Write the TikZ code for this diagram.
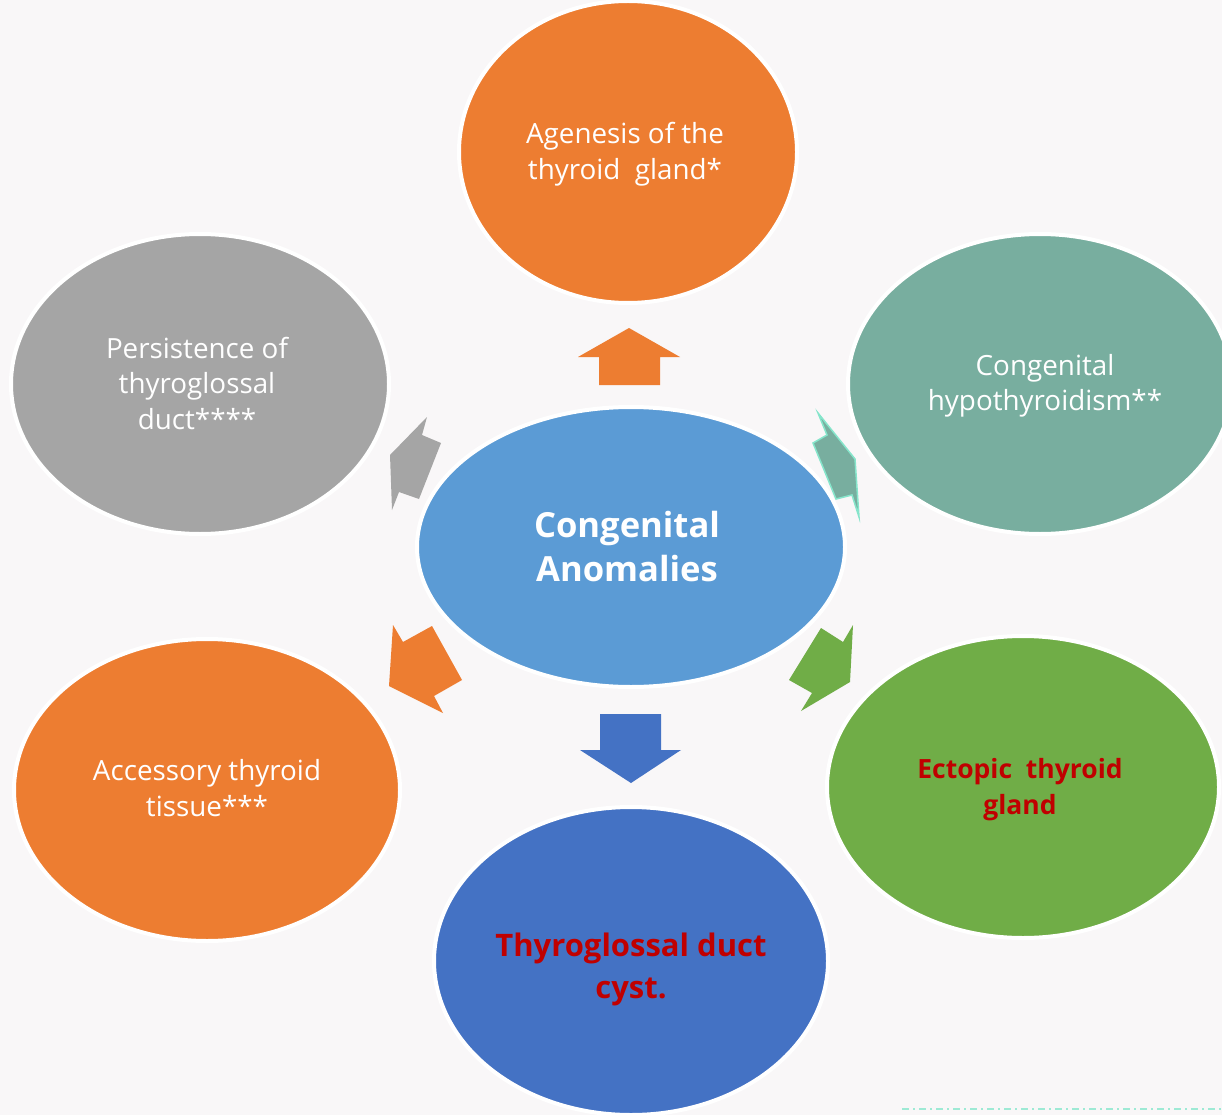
\documentclass[tikz,border=0pt]{standalone}
\usepackage{fontspec}
\setmainfont{Open Sans}
\usetikzlibrary{shapes.geometric}
\definecolor{bgc}{HTML}{F9F7F8}
\definecolor{orng}{HTML}{ED7D31}
\definecolor{lblue}{HTML}{5B9BD5}
\definecolor{teal1}{HTML}{78AE9F}
\definecolor{tealedge}{HTML}{86E5CB}
\definecolor{gry}{HTML}{A5A5A5}
\definecolor{grn}{HTML}{70AD47}
\definecolor{dblue}{HTML}{4472C4}
\definecolor{redt}{HTML}{C00000}
\tikzset{
  bubble/.style={ellipse, draw=white, line width=4pt, inner sep=0pt},
  wtext/.style={text=white, align=center, font=\fontsize{27.8}{35.5}\selectfont},
  rtext/.style={text=redt, align=center}
}
\begin{document}
\begin{tikzpicture}[x=1pt,y=-1pt]
\useasboundingbox (0,0) rectangle (1222,1115);
\clip (0,0) rectangle (1222,1115);
\fill[bgc] (0,0) rectangle (1222,1115);

% ellipses
\node[bubble, fill=orng, minimum width=338pt, minimum height=302pt] (top) at (628,152) {};
\node[bubble, fill=teal1, minimum width=384pt, minimum height=300pt] (tr) at (1040,384) {};
\node[bubble, fill=gry, minimum width=378pt, minimum height=300pt] (tl) at (200,384) {};
\node[bubble, fill=orng, minimum width=386pt, minimum height=302pt] (bl) at (207,790) {};
\node[bubble, fill=grn, minimum width=392pt, minimum height=302pt] (br) at (1023,787) {};
\node[bubble, fill=dblue, minimum width=394pt, minimum height=308pt] (bot) at (631,961) {};
\node[bubble, fill=lblue, minimum width=428pt, minimum height=280pt] (ctr) at (631,547) {};

% texts
\node[wtext] (ttop) at (625,154) {Agenesis of the\\thyroid\ \ gland*};
\node[wtext] (ttr) at (1045,386) {Congenital\\hypothyroidism**};
\node[wtext] (ttl) at (197,383) {Persistence of\\thyroglossal\\duct****};
\node[wtext] (tbl) at (207,788) {Accessory thyroid\\tissue***};
\node[rtext, font=\bfseries\fontsize{26.5}{36}\selectfont] (tbr) at (1020,790) {Ectopic\ \ thyroid\\gland};
\node[rtext, font=\bfseries\fontsize{31}{42}\selectfont] (tbot) at (631,969) {Thyroglossal duct\\cyst.};
\node[wtext, font=\bfseries\fontsize{34.6}{44}\selectfont] (tctr) at (627,547) {Congenital\\Anomalies};

% block arrows
\fill[orng] (599,385) -- (599,357) -- (578,357) -- (629,328) -- (680,357) -- (660,357) -- (660,385) -- cycle;
\fill[dblue] (600,714) -- (661,714) -- (661,750) -- (681,750) -- (631,783) -- (580,750) -- (600,750) -- cycle;
\filldraw[teal1, draw=tealedge, line width=1.5pt, line join=miter] (818,413) -- (827,435) -- (813,443) -- (836,499) -- (852,495) -- (859,517) -- (855,459) -- cycle;
\fill[gry] (427,417) -- (422,435) -- (441,443) -- (419,499) -- (399,492) -- (392,510) -- (390,455) -- cycle;
\fill[orng] (393,625) -- (403,642) -- (432,626) -- (462,680) -- (434,696) -- (443,713) -- (389,686) -- cycle;
\fill[grn] (821,628) -- (843,642) -- (853,625) -- (850,682) -- (801,711) -- (812,693) -- (789,680) -- cycle;

% dash-dot line
\draw[tealedge!80, line width=2pt, dash pattern=on 7pt off 4pt on 2pt off 4pt] (902,1109) -- (1222,1109);
\end{tikzpicture}
\end{document}
